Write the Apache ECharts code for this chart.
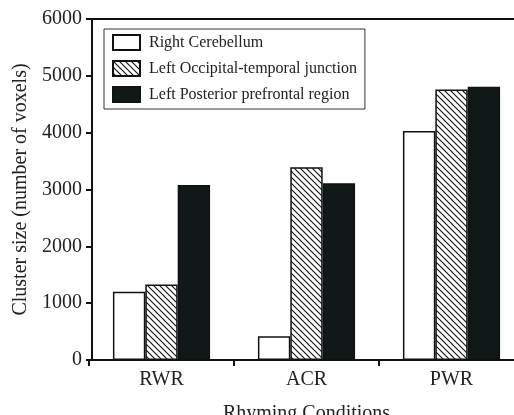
<!DOCTYPE html>
<html>
<head>
<meta charset="utf-8">
<script src="https://cdn.jsdelivr.net/npm/echarts@6/dist/echarts.min.js"></script>
<style>
html,body{margin:0;padding:0;background:#fff;}
#chart{width:514px;height:415px;}
</style>
</head>
<body>
<div id="chart"></div>
<script>
var categories = ['RWR', 'ACR', 'PWR'];
var seriesNames = ['Right Cerebellum', 'Left Occipital-temporal junction', 'Left Posterior prefrontal region'];
var rightCerebellum = [1200, 420, 4030];
var leftOccTemporal = [1330, 3390, 4760];
var leftPostPrefrontal = [3080, 3110, 4810];
var yTicks = [0, 1000, 2000, 3000, 4000, 5000, 6000];

// diagonal hatch like the original figure
function hatch(){
    var c = document.createElement('canvas');
    c.width = 6; c.height = 6;
    var ctx = c.getContext('2d');
    ctx.fillStyle = '#fff';
    ctx.fillRect(0, 0, 6, 6);
    ctx.strokeStyle = '#111';
    ctx.lineWidth = 1.1;
    ctx.beginPath();
    ctx.moveTo(-1, -1); ctx.lineTo(7, 7);
    ctx.moveTo(-1, 5); ctx.lineTo(1, 7);
    ctx.moveTo(5, -1); ctx.lineTo(7, 1);
    ctx.stroke();
    return c;
}

var chart = echarts.init(document.getElementById('chart'));
var font = 'Liberation Serif';
var option = {
    animation: false,
    textStyle: {fontFamily: font, color: '#111'},
    grid: {left: 89, top: 19, width: 435, bottom: 55, outerBoundsMode: 'none', containLabel: false},
    legend: {
        data: seriesNames,
        orient: 'vertical',
        left: 104, top: 29,
        icon: 'rect',
        itemWidth: 27, itemHeight: 15,
        itemGap: 9,
        padding: [5, 8, 6, 8],
        borderColor: '#333', borderWidth: 1,
        textStyle: {fontFamily: font, fontSize: 16, color: '#222', padding: [0, 0, 0, 4]}
    },
    xAxis: [{
        type: 'category',
        data: categories,
        name: 'Rhyming Conditions',
        nameLocation: 'middle',
        nameGap: 44,
        nameTextStyle: {fontFamily: font, fontSize: 20, color: '#222'},
        axisLine: {lineStyle: {color: '#111', width: 2}},
        axisTick: {show: true, length: 6, lineStyle: {width: 2}},
        axisLabel: {fontFamily: font, fontSize: 20, color: '#222', margin: 10}
    }, {
        type: 'category',
        position: 'top',
        data: categories,
        axisLine: {lineStyle: {color: '#111', width: 2}},
        axisTick: {show: false},
        axisLabel: {show: false}
    }],
    yAxis: {
        type: 'value',
        offset: -3,
        min: yTicks[0], max: yTicks[yTicks.length - 1], interval: 1000,
        name: 'Cluster size (number of voxels)',
        nameLocation: 'middle',
        nameGap: 58,
        nameTextStyle: {fontFamily: font, fontSize: 20, color: '#222'},
        axisLine: {show: true, lineStyle: {color: '#111', width: 2}},
        axisTick: {show: true, length: 6, lineStyle: {width: 2}},
        splitLine: {show: false},
        axisLabel: {fontFamily: font, fontSize: 20, color: '#222', margin: 10,
            formatter: function(v){ return String(v); }}
    },
    series: [{
        name: seriesNames[0], type: 'bar', data: rightCerebellum,
        barGap: 0, barCategoryGap: '33%',
        itemStyle: {color: '#fff', borderColor: '#111', borderWidth: 1.5}
    }, {
        name: seriesNames[1], type: 'bar', data: leftOccTemporal,
        barGap: 0, barCategoryGap: '33%',
        itemStyle: {color: {image: hatch(), repeat: 'repeat'}, borderColor: '#111', borderWidth: 1.5}
    }, {
        name: seriesNames[2], type: 'bar', data: leftPostPrefrontal,
        barGap: 0, barCategoryGap: '33%',
        itemStyle: {color: '#111818', borderColor: '#111', borderWidth: 1.5}
    }]
};
chart.setOption(option);
</script>
</body>
</html>
